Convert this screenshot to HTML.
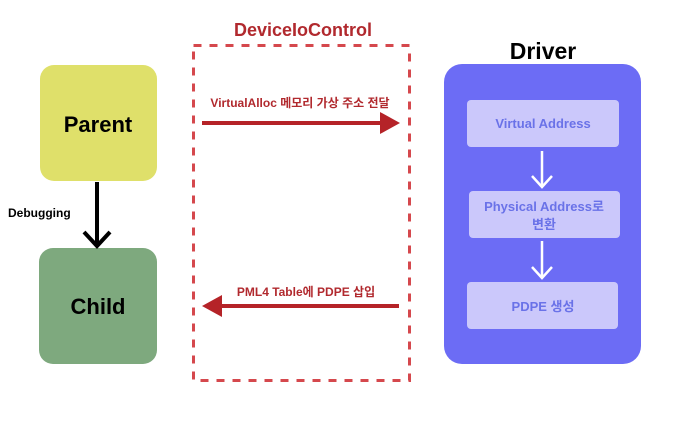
<!DOCTYPE html>
<html><head><meta charset="utf-8"><style>
body{margin:0;background:#fff;}
svg text{font-family:"Liberation Sans","Noto Sans CJK KR",sans-serif;font-weight:bold;}
</style></head><body>
<svg width="679" height="424" viewBox="0 0 679 424" xmlns="http://www.w3.org/2000/svg">
<rect width="679" height="424" fill="#fff"/>
<text x="303" y="36" text-anchor="middle" font-size="18" fill="#b1292e">DeviceIoControl</text>
<rect x="193.5" y="45.5" width="216" height="335" fill="none" stroke="#d5484d" stroke-width="3" stroke-dasharray="8,8"/>
<rect x="40" y="65" width="117" height="116" rx="14" fill="#dfe06a"/>
<text x="98" y="132" text-anchor="middle" font-size="22" fill="#000">Parent</text>
<rect x="39" y="248" width="118" height="116" rx="14" fill="#7ea97e"/>
<text x="98" y="314" text-anchor="middle" font-size="22" fill="#000">Child</text>
<line x1="97" y1="182" x2="97" y2="244" stroke="#000" stroke-width="4"/>
<polyline points="84,232 97,246 110,232" fill="none" stroke="#000" stroke-width="4"/>
<text x="8" y="217" font-size="12" fill="#000">Debugging</text>
<text x="300" y="107" text-anchor="middle" font-size="12" fill="#b1292e">VirtualAlloc 메모리 가상 주소 전달</text>
<line x1="202" y1="123" x2="382" y2="123" stroke="#b52328" stroke-width="4"/>
<polygon points="380,112 400,123 380,134" fill="#b52328"/>
<text x="306" y="296" text-anchor="middle" font-size="12" fill="#b1292e">PML4 Table에 PDPE 삽입</text>
<line x1="399" y1="306" x2="220" y2="306" stroke="#b52328" stroke-width="4"/>
<polygon points="222,295 202,306 222,317" fill="#b52328"/>
<text x="543" y="59" text-anchor="middle" font-size="23" fill="#000">Driver</text>
<rect x="444" y="64" width="197" height="300" rx="18" fill="#6c6cf5"/>
<rect x="467" y="100" width="152" height="47" rx="4" fill="#cbc8fb"/>
<text x="543" y="128" text-anchor="middle" font-size="13" fill="#6a72e8">Virtual Address</text>
<line x1="542" y1="151" x2="542" y2="186" stroke="#fff" stroke-width="2.5"/>
<polyline points="532,176 542,187 552,176" fill="none" stroke="#fff" stroke-width="2.5"/>
<rect x="469" y="191" width="151" height="47" rx="4" fill="#cbc8fb"/>
<text x="544" y="211" text-anchor="middle" font-size="13" fill="#6a72e8">Physical Address로</text>
<text x="544" y="229" text-anchor="middle" font-size="13" fill="#6a72e8">변환</text>
<line x1="542" y1="241" x2="542" y2="277" stroke="#fff" stroke-width="2.5"/>
<polyline points="532,267 542,278 552,267" fill="none" stroke="#fff" stroke-width="2.5"/>
<rect x="467" y="282" width="151" height="47" rx="4" fill="#cbc8fb"/>
<text x="543" y="311" text-anchor="middle" font-size="13" fill="#6a72e8">PDPE 생성</text>
</svg>
</body></html>
